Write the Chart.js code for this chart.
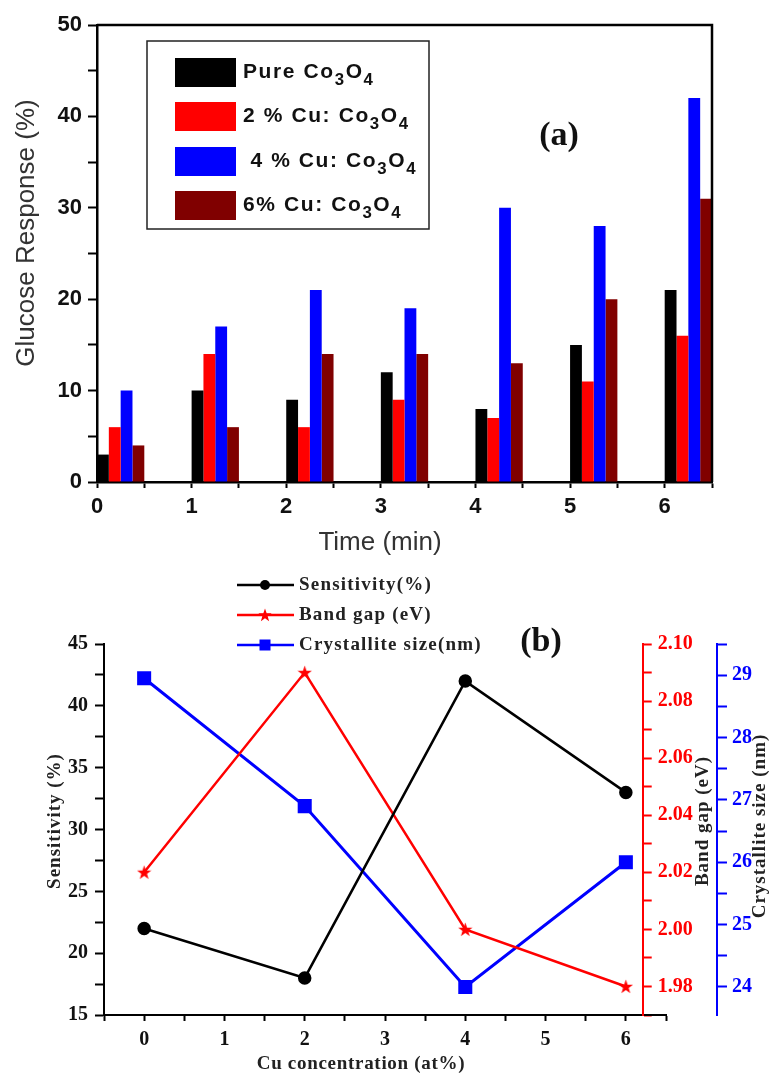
<!DOCTYPE html>
<html>
<head>
<meta charset="utf-8">
<script src="https://cdn.jsdelivr.net/npm/chart.js@4.4.1/dist/chart.umd.min.js"></script>
<style>
  body { margin: 0; background: #fff; }
  #wrapA { position: absolute; left: 0; top: 0; width: 770px; height: 555px; }
  #wrapB { position: absolute; left: 0; top: 555px; width: 770px; height: 520px; }
</style>
</head>
<body>
<div id="wrapA"><canvas id="chartA" width="770" height="555"></canvas></div>
<div id="wrapB"><canvas id="chartB" width="770" height="520"></canvas></div>
<script>
// ---- (a) glucose response vs time ----
var timeMin = [0, 1, 2, 3, 4, 5, 6];
var pureCo3O4 = [3, 10, 9, 12, 8, 15, 21];
var cu2Co3O4 = [6, 14, 6, 9, 7, 11, 16];
var cu4Co3O4 = [10, 17, 21, 19, 30, 28, 42];
var cu6Co3O4 = [4, 6, 14, 14, 13, 20, 31];
var labelsA = ['Pure Co3O4', '2 % Cu: Co3O4', ' 4 % Cu: Co3O4', '6% Cu: Co3O4'];
var xTicksA = [0, 0.5, 1, 1.5, 2, 2.5, 3, 3.5, 4, 4.5, 5, 5.5, 6, 6.5];
var yTicksA = [0, 5, 10, 15, 20, 25, 30, 35, 40, 45, 50];

// ---- (b) properties vs Cu concentration ----
var cuConc = [0, 2, 4, 6];
var sensitivity = [22, 18, 42, 33];
var bandGap = [2.02, 2.09, 2.00, 1.98];
var crystSize = [28.95, 26.9, 24, 26];
var labelsB = ['Sensitivity(%)', 'Band gap (eV)', 'Crystallite size(nm)'];
var xTicksB = [-0.5, 0, 0.5, 1, 1.5, 2, 2.5, 3, 3.5, 4, 4.5, 5, 5.5, 6, 6.5];
var yTicksB = [15, 17.5, 20, 22.5, 25, 27.5, 30, 32.5, 35, 37.5, 40, 42.5, 45];
var bandTicks = [1.97, 1.98, 1.99, 2.00, 2.01, 2.02, 2.03, 2.04, 2.05, 2.06, 2.07, 2.08, 2.09, 2.10];
var sizeTicks = [24, 24.5, 25, 25.5, 26, 26.5, 27, 27.5, 28, 28.5, 29, 29.5];

var SANS = 'Liberation Sans, Arial, sans-serif';
var SERIF = 'Liberation Serif, Times New Roman, serif';

function toXY(xs, ys) {
    return xs.map(function (x, i) { return { x: x, y: ys[i] }; });
}
function fixTicks(list) {
    return function (scale) {
        scale.ticks = list.map(function (v) { return { value: v }; });
    };
}

// text with chemical subscripts (digit right after a letter)
function drawChem(ctx, text, x, y, size, spacing) {
    for (var i = 0; i < text.length; i++) {
        var ch = text[i];
        var sub = /[0-9]/.test(ch) && i > 0 && /[A-Za-z]/.test(text[i - 1]);
        ctx.font = 'bold ' + (sub ? size * 0.8 : size) + 'px ' + SANS;
        ctx.fillText(ch, x, sub ? y + size * 0.42 : y);
        x += ctx.measureText(ch).width + spacing;
    }
}
function rotText(ctx, text, x, y) {
    ctx.save();
    ctx.translate(x, y);
    ctx.rotate(-Math.PI / 2);
    ctx.fillText(text, 0, 0);
    ctx.restore();
}
function starPath(g, cx, cy, ro, ri) {
    g.beginPath();
    for (var k = 0; k < 10; k++) {
        var r = k % 2 === 0 ? ro : ri;
        var a = -Math.PI / 2 + k * Math.PI / 5;
        g.lineTo(cx + r * Math.cos(a), cy + r * Math.sin(a));
    }
    g.closePath();
}
function makeStar(size, color) {
    var c = document.createElement('canvas');
    c.width = size; c.height = size;
    var g = c.getContext('2d');
    starPath(g, size / 2, size / 2 + 0.6, size / 2, size / 5);
    g.fillStyle = color;
    g.fill();
    return c;
}

// frame, legend and texts of (a)
var decorA = {
    id: 'decorA',
    afterDraw: function (chart) {
        var ctx = chart.ctx, a = chart.chartArea;
        ctx.save();
        ctx.strokeStyle = '#000';
        ctx.lineWidth = 2.5;
        ctx.beginPath();
        ctx.moveTo(a.left, a.top);
        ctx.lineTo(a.right, a.top);
        ctx.lineTo(a.right, a.bottom);
        ctx.stroke();

        // legend box
        ctx.lineWidth = 1.5;
        ctx.strokeStyle = '#222';
        ctx.strokeRect(147, 41, 282, 188);
        var rows = [72, 116, 161, 205];
        chart.data.datasets.forEach(function (ds, i) {
            ctx.fillStyle = ds.backgroundColor;
            ctx.fillRect(175, rows[i] - 14, 61, 29);
            ctx.fillStyle = '#111';
            ctx.textBaseline = 'middle';
            ctx.textAlign = 'left';
            drawChem(ctx, ds.label, 243, rows[i], 21, 1.6);
        });

        ctx.fillStyle = '#111';
        ctx.textAlign = 'center';
        ctx.textBaseline = 'middle';
        ctx.font = 'bold 34px ' + SERIF;
        ctx.fillText('(a)', 559, 136);

        ctx.fillStyle = '#333';
        ctx.font = '26px ' + SANS;
        rotText(ctx, 'Glucose Response (%)', 27, 233);
        ctx.fillText('Time (min)', 380, 543);
        ctx.restore();
    }
};

var chartA = new Chart(document.getElementById('chartA'), {
    type: 'bar',
    data: {
        datasets: [
            { label: labelsA[0], data: toXY(timeMin, pureCo3O4), backgroundColor: '#000000', xAxisID: 'xb' },
            { label: labelsA[1], data: toXY(timeMin, cu2Co3O4), backgroundColor: '#ff0000', xAxisID: 'xb' },
            { label: labelsA[2], data: toXY(timeMin, cu4Co3O4), backgroundColor: '#0000ff', xAxisID: 'xb' },
            { label: labelsA[3], data: toXY(timeMin, cu6Co3O4), backgroundColor: '#800000', xAxisID: 'xb' }
        ]
    },
    options: {
        responsive: false,
        animation: false,
        layout: { padding: { top: 25, right: 58, left: 0, bottom: 0 } },
        datasets: { bar: { categoryPercentage: 0.5, barPercentage: 1, borderWidth: 0 } },
        plugins: { legend: { display: false }, tooltip: { enabled: false } },
        scales: {
            // bars sit just right of each whole minute
            xb: { type: 'linear', min: -0.25, max: 6.25, display: false, offset: false, grid: { offset: false } },
            x: {
                type: 'linear', min: 0, max: 6.5, offset: false,
                border: { color: '#000', width: 2.5 },
                grid: { offset: false, drawOnChartArea: false, tickColor: '#000', tickWidth: 2, tickLength: 6 },
                afterBuildTicks: fixTicks(xTicksA),
                afterFit: function (s) { s.height = 73; },
                ticks: {
                    autoSkip: false, maxRotation: 0, padding: 6, color: '#111',
                    font: { family: SANS, size: 22, weight: 'bold' },
                    callback: function (v) { return Number.isInteger(v) ? String(v) : ''; }
                }
            },
            y: {
                min: 0, max: 50,
                border: { color: '#000', width: 2.5 },
                grid: { drawOnChartArea: false, tickColor: '#000', tickWidth: 2, tickLength: 9 },
                afterBuildTicks: fixTicks(yTicksA),
                afterFit: function (s) { s.width = 97; },
                ticks: {
                    autoSkip: false, padding: 6, color: '#111',
                    font: { family: SANS, size: 22, weight: 'bold' },
                    callback: function (v) { return v % 10 === 0 ? String(v) : ''; }
                }
            }
        }
    },
    plugins: [decorA]
});

// legend and titles of (b)
var starRed = makeStar(15, '#ff0000');
var decorB = {
    id: 'decorB',
    // park the two right axes on x positions (red one sits inside the frame)
    afterLayout: function (chart) {
        var x = chart.scales.x;
        [['yr', 6.21], ['yb', 7.135]].forEach(function (p) {
            var s = chart.scales[p[0]];
            var w = s.right - s.left;
            s.left = x.getPixelForValue(p[1]);
            s.right = s.left + w;
        });
    },
    afterDraw: function (chart) {
        var ctx = chart.ctx;
        ctx.save();
        var rows = [30, 60, 90];
        chart.data.datasets.forEach(function (ds, i) {
            var y = rows[i];
            ctx.strokeStyle = ds.borderColor;
            ctx.lineWidth = 2.5;
            ctx.beginPath();
            ctx.moveTo(237, y);
            ctx.lineTo(294, y);
            ctx.stroke();
            ctx.fillStyle = ds.borderColor;
            if (i === 0) {
                ctx.beginPath();
                ctx.arc(265, y, 5, 0, Math.PI * 2);
                ctx.fill();
            } else if (i === 1) {
                starPath(ctx, 265, y + 0.5, 7, 2.8);
                ctx.fill();
            } else {
                ctx.fillRect(259.5, y - 5.5, 11, 11);
            }
            ctx.fillStyle = '#222';
            ctx.textAlign = 'left';
            ctx.textBaseline = 'middle';
            ctx.font = 'bold 19px ' + SERIF;
            ctx.letterSpacing = '1.2px';
            ctx.fillText(ds.label, 299, y);
            ctx.letterSpacing = '0px';
        });

        ctx.fillStyle = '#111';
        ctx.textAlign = 'center';
        ctx.font = 'bold 34px ' + SERIF;
        ctx.fillText('(b)', 541, 87);

        ctx.fillStyle = '#222';
        ctx.font = 'bold 19px ' + SERIF;
        ctx.letterSpacing = '1px';
        rotText(ctx, 'Sensitivity (%)', 55, 266);
        rotText(ctx, 'Band gap (eV)', 703, 266);
        rotText(ctx, 'Crystallite size (nm)', 760, 271);
        ctx.letterSpacing = '0.7px';
        ctx.fillText('Cu concentration (at%)', 361, 509);
        ctx.restore();
    }
};

function tickFont() { return { family: SERIF, size: 20, weight: 'bold' }; }
function halfRoom(s) { s.width = 52; }

var chartB = new Chart(document.getElementById('chartB'), {
    type: 'line',
    data: {
        datasets: [
            {
                label: labelsB[0], data: toXY(cuConc, sensitivity), yAxisID: 'y',
                borderColor: '#000000', backgroundColor: '#000000', borderWidth: 2.5,
                pointStyle: 'circle', pointRadius: 5.5
            },
            {
                label: labelsB[1], data: toXY(cuConc, bandGap), yAxisID: 'yr',
                borderColor: '#ff0000', backgroundColor: '#ff0000', borderWidth: 2.5,
                pointStyle: starRed, pointRadius: 7
            },
            {
                label: labelsB[2], data: toXY(cuConc, crystSize), yAxisID: 'yb',
                borderColor: '#0000ff', backgroundColor: '#0000ff', borderWidth: 3,
                pointStyle: 'rect', pointRadius: 7.8
            }
        ]
    },
    options: {
        responsive: false,
        animation: false,
        clip: false,
        layout: { padding: { top: 89, right: 0, left: 0, bottom: 0 } },
        plugins: { legend: { display: false }, tooltip: { enabled: false } },
        scales: {
            x: {
                type: 'linear', min: -0.5, max: 6.5,
                border: { color: '#000', width: 2 },
                grid: { drawOnChartArea: false, tickColor: '#000', tickWidth: 2, tickLength: 6 },
                afterBuildTicks: fixTicks(xTicksB),
                afterFit: function (s) { s.height = 60; },
                ticks: {
                    autoSkip: false, maxRotation: 0, padding: 7, color: '#111', font: tickFont(),
                    callback: function (v) { return Number.isInteger(v) ? String(v) : ''; }
                }
            },
            y: {
                min: 15, max: 45,
                border: { color: '#000', width: 2 },
                grid: { drawOnChartArea: false, tickColor: '#000', tickWidth: 2, tickLength: 9 },
                afterBuildTicks: fixTicks(yTicksB),
                afterFit: function (s) { s.width = 104; },
                ticks: {
                    autoSkip: false, padding: 7, color: '#111', font: tickFont(),
                    callback: function (v) { return v % 5 === 0 ? String(v) : ''; }
                }
            },
            yr: {
                axis: 'y', position: 'right', min: 1.97, max: 2.10,
                border: { color: '#ff0000', width: 2 },
                grid: { drawOnChartArea: false, tickColor: '#ff0000', tickWidth: 2, tickLength: 9 },
                afterBuildTicks: fixTicks(bandTicks),
                afterFit: halfRoom,
                ticks: {
                    autoSkip: false, padding: 6, color: '#ff0000', font: tickFont(),
                    callback: function (v) { return Math.round(v * 100) % 2 === 0 ? v.toFixed(2) : ''; }
                }
            },
            yb: {
                axis: 'y', position: 'right', min: 23.55, max: 29.5,
                border: { color: '#0000ff', width: 2 },
                grid: { drawOnChartArea: false, tickColor: '#0000ff', tickWidth: 2, tickLength: 10 },
                afterBuildTicks: fixTicks(sizeTicks),
                afterFit: halfRoom,
                ticks: {
                    autoSkip: false, padding: 5, color: '#0000ff', font: tickFont(),
                    callback: function (v) { return Number.isInteger(v) ? String(v) : ''; }
                }
            }
        }
    },
    plugins: [decorB]
});
</script>
</body>
</html>
